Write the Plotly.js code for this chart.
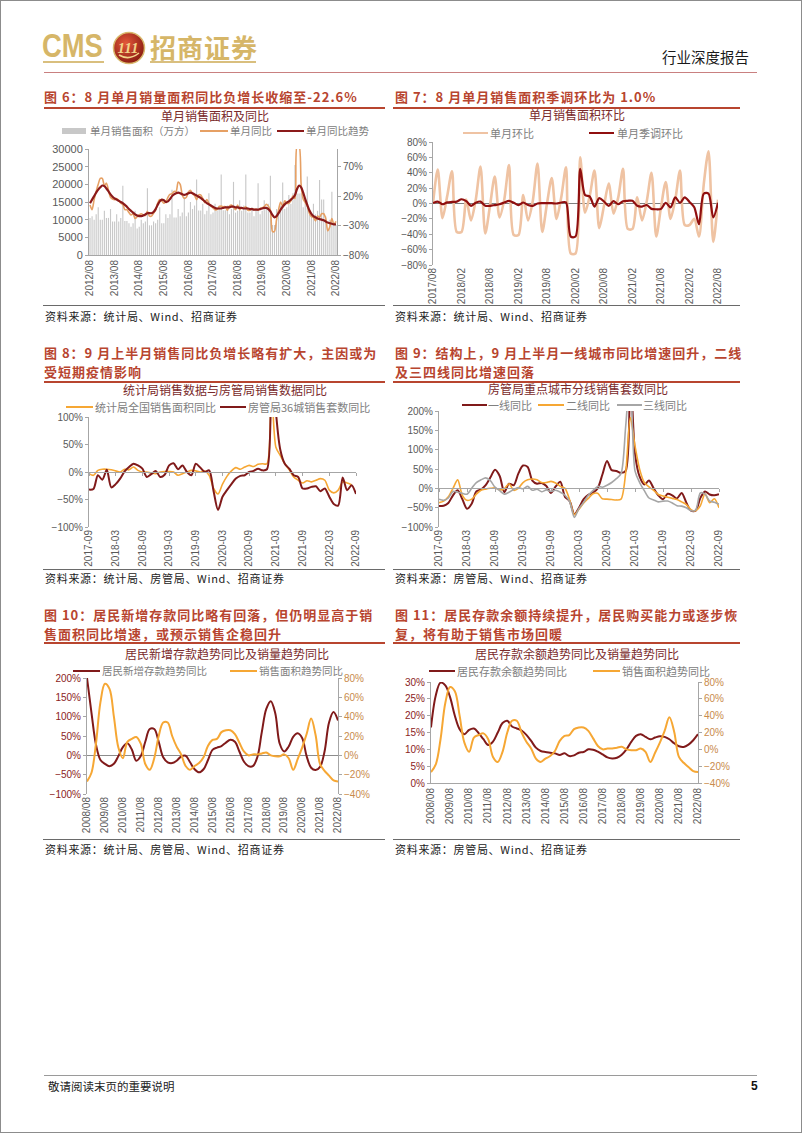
<!DOCTYPE html>
<html><head><meta charset="utf-8">
<script src="https://cdn.plot.ly/plotly-3.0.1.min.js"></script>
<style>
body{margin:0;background:#fff;}
#page{position:relative;width:802px;height:1133px;overflow:hidden;font-family:"Noto Sans CJK SC",sans-serif;background:#fff;}
.frame{position:absolute;left:0;top:0;width:800px;height:1131px;border:1px solid #8c8c8c;}
.t{position:absolute;white-space:nowrap;}
.ftitle{font-size:13px;font-weight:700;color:#b8452f;letter-spacing:1px;line-height:19px;}
.rline{position:absolute;height:1.5px;background:#b8452f;}
.sline{position:absolute;height:1px;background:#6a6a6a;}
.src{font-size:11px;color:#222;letter-spacing:0.7px;line-height:16px;}
.chart{position:absolute;}
.lg{position:absolute;font-size:11px;color:#808080;line-height:12px;white-space:nowrap;}
.ls{position:absolute;}
</style></head>
<body>
<div id="page">
  <div class="frame"></div>
  <!-- header -->
  <div class="t" style="left:42px;top:27px;font-family:'Liberation Sans',Arial,sans-serif;font-weight:700;font-size:33px;color:#d6b668;transform:scaleX(0.83);transform-origin:left top;line-height:38px;">CMS</div>
  <svg style="position:absolute;left:112px;top:31px" width="34" height="34" viewBox="0 0 34 34">
    <defs><radialGradient id="lg1" cx="40%" cy="35%" r="70%"><stop offset="0" stop-color="#e4583a"/><stop offset="1" stop-color="#861910"/></radialGradient></defs>
    <circle cx="17" cy="17" r="15.5" fill="url(#lg1)" stroke="#d9b86c" stroke-width="1.5"/>
    <text x="16" y="22" text-anchor="middle" font-family="Liberation Serif" font-style="italic" font-weight="bold" font-size="15" fill="#f2d48a">111</text>
    <path d="M7 24 Q17 30 27 22" stroke="#f2d48a" stroke-width="1.6" fill="none"/>
  </svg>
  <div class="t" style="left:150px;top:30px;font-size:26px;font-weight:700;color:#d6b668;letter-spacing:1px;line-height:34px;">招商证券</div>
  <div style="position:absolute;left:43px;top:61px;width:61px;height:2px;background:#d9bf7e;"></div>
  <div style="position:absolute;left:150px;top:61px;width:106px;height:2px;background:#d9bf7e;"></div>
  <div class="t" style="left:662px;top:48px;font-size:14.5px;color:#1a1a1a;line-height:18px;">行业深度报告</div>
  <div style="position:absolute;left:44px;top:72px;width:713px;height:1px;background:#c98080;"></div>

  <!-- section titles -->
  <div class="t ftitle" style="left:44px;top:87px;">图 6：8 月单月销量面积同比负增长收缩至-22.6%</div>
  <div class="rline" style="left:44px;top:107px;width:341px;"></div>
  <div class="t ftitle" style="left:395px;top:87px;">图 7：8 月单月销售面积季调环比为 1.0%</div>
  <div class="rline" style="left:393px;top:107px;width:347px;"></div>

  <div class="t ftitle" style="left:44px;top:343px;">图 8：9 月上半月销售同比负增长略有扩大，主因或为<br>受短期疫情影响</div>
  <div class="rline" style="left:44px;top:381px;width:341px;"></div>
  <div class="t ftitle" style="left:395px;top:343px;">图 9：结构上，9 月上半月一线城市同比增速回升，二线<br>及三四线同比增速回落</div>
  <div class="rline" style="left:393px;top:381px;width:347px;"></div>

  <div class="t ftitle" style="left:44px;top:605px;">图 10：居民新增存款同比略有回落，但仍明显高于销<br>售面积同比增速，或预示销售企稳回升</div>
  <div class="rline" style="left:44px;top:642px;width:341px;"></div>
  <div class="t ftitle" style="left:395px;top:605px;">图 11：居民存款余额持续提升，居民购买能力或逐步恢<br>复，将有助于销售市场回暖</div>
  <div class="rline" style="left:393px;top:642px;width:347px;"></div>

  <!-- charts -->
  <div id="c6" class="chart" style="left:40px;top:98px;width:345px;height:207px;"></div>
  <div id="c7" class="chart" style="left:390px;top:98px;width:350px;height:207px;"></div>
  <div id="c8" class="chart" style="left:40px;top:374px;width:345px;height:194px;"></div>
  <div id="c9" class="chart" style="left:390px;top:374px;width:350px;height:194px;"></div>
  <div id="c10" class="chart" style="left:40px;top:635px;width:345px;height:203px;"></div>
  <div id="c11" class="chart" style="left:390px;top:635px;width:350px;height:203px;"></div>

  <!-- sources -->
  <div class="sline" style="left:43px;top:305px;width:342px;"></div>
  <div class="t src" style="left:45px;top:308px;">资料来源：统计局、Wind、招商证券</div>
  <div class="sline" style="left:393px;top:305px;width:347px;"></div>
  <div class="t src" style="left:395px;top:308px;">资料来源：统计局、Wind、招商证券</div>
  <div class="sline" style="left:43px;top:569px;width:342px;"></div>
  <div class="t src" style="left:45px;top:570px;">资料来源：统计局、房管局、Wind、招商证券</div>
  <div class="sline" style="left:393px;top:569px;width:347px;"></div>
  <div class="t src" style="left:395px;top:570px;">资料来源：房管局、Wind、招商证券</div>
  <div class="sline" style="left:43px;top:839px;width:342px;"></div>
  <div class="t src" style="left:45px;top:841px;">资料来源：统计局、房管局、Wind、招商证券</div>
  <div class="sline" style="left:393px;top:839px;width:347px;"></div>
  <div class="t src" style="left:395px;top:841px;">资料来源：房管局、Wind、招商证券</div>

  <!-- footer -->
  <div style="position:absolute;left:44px;top:1075px;width:713px;height:1px;background:#9a9a9a;"></div>
  <div class="t" style="left:48px;top:1078px;font-size:11.5px;color:#222;line-height:16px;">敬请阅读末页的重要说明</div>
  <div class="t" style="left:751px;top:1078px;font-size:12px;font-weight:700;color:#111;font-family:'Liberation Sans',Arial,sans-serif;line-height:16px;">5</div>
</div>
<script>
// ---------------- DATA ----------------
// Fig 6: monthly sales area (10k m2), 2012/08 - 2022/08
const area6 = [
  10500, 11000, 10000, 11500, 13500,
  10000, 10000, 12500, 10500, 10500, 13000, 9500, 9500, 11500, 9500, 10500, 19600,
  9600, 9600, 9000, 8000, 9000, 12500, 7500, 8000, 10000, 9000, 9500, 18900,
  8400, 8400, 9500, 9000, 10000, 13500, 9000, 9000, 11500, 10500, 11500, 18500,
  10600, 10600, 13000, 11000, 12000, 16500, 11000, 12000, 15000, 13000, 14000, 21400,
  12600, 12600, 14500, 11500, 12500, 17500, 11500, 12000, 14500, 12500, 14000, 22800,
  12700, 12700, 14000, 11500, 13000, 20700, 12000, 12500, 15500, 12500, 14000, 22800,
  12000, 12000, 13500, 11000, 13000, 20300, 11500, 12500, 15500, 13000, 14500, 22400,
  8500, 8500, 13000, 11500, 14000, 20500, 13000, 13500, 17000, 14500, 17500, 25500,
  17400, 17400, 17500, 13500, 14500, 22200, 11500, 11500, 14500, 11500, 12500, 21200,
  15700, 15700, 11000, 7000, 10000, 17900, 8500, 8500
];
const yoy6 = [
  5, -3, 14, 28, 40,
  50, 50, 38, 42, 30, 18, 15, 14, 16, 12, 8, 6,
  -3, -3, -8, -12, -10, -18, -15, -12, -10, -12, -13, -6,
  -14, -14, -9, -4, 8, 14, 12, 8, 10, 18, 23, 24,
  28, 28, 44, 40, 22, 16, 18, 27, 30, 24, 21, 14,
  22, 22, 16, 9, 14, 8, 3, 0, -3, -3, 2, 3,
  2, 2, -4, 3, 5, 1, -3, 5, -3, 0, 0, 2,
  -4, -4, -1, -3, -2, -4, -1, 0, 2, 6, 3, -4,
  -40, -40, -20, -3, 10, 2, 12, 8, 8, 12, 20, 16,
  105, 105, 40, 15, 9, 3, -9, -15, -16, -22, -14, -16,
  -10, -10, -18, -39, -32, -18, -28, -23
];
const trend6 = [
  8, 14, 20, 26, 31,
  35, 38, 37, 33, 28, 23, 19, 16, 14, 12, 10, 8,
  5, 2, -2, -5, -8, -11, -13, -14, -14, -13, -11, -9,
  -9, -9, -7, -2, 5, 11, 14, 13, 10, 11, 15, 20,
  23, 25, 26, 25, 23, 22, 23, 25, 26, 25, 23, 21,
  19, 17, 14, 11, 8, 6, 4, 2, 0, -1, -1, -1,
  0, 1, 1, 1, 2, 2, 1, 1, 0, 0, -1, -1,
  -1, -2, -2, -3, -3, -3, -2, -1, 0, 0, -2, -6,
  -12, -16, -14, -9, -3, 2, 6, 9, 11, 14, 17, 22,
  32, 38, 35, 26, 15, 5, -4, -10, -14, -16, -18, -19,
  -20, -21, -23, -25, -26, -27, -28, -28
];

// Fig 7: MoM, 2017/08 - 2022/08
const mom7 = [0,44,-19,10,42,-37,-37,5,-22,5, 48,-39,-3,35,-18,5,50,-41,-41,11,
  -22,3,52,-37,0,33,-20,8,47,-65, -65,60,-12,10,43,-32,-3,26,-13,8,
  45,-33,-33,8,-22,3,40,-43,-5,28, -20,5,43,-28,-28,-20,-43,25,68,-50, 5];
const sa7 = [0.5,2.5,-1,1.5,2, 2.5,5.5,3,-3,1, 2.5,-3,-3,-2,-1, 1.3,3.5,1,-2,1.3,
  -2,-3,0,0.5,0.5, 0.5,0,1.3,1.5,-43, -43,45,11,9,-4, 7,2.6,-3,3,-1,
  3,3.5,3.5,-3,-4, -2,-7,-7.5,-7,1, -5,8,1,8,2, -5,-27,12.7,13,-18, 1];

// Fig 8: YoY, 2017-09 - 2022-09
const nbs8 = [-3,-6,3,5,5,4,2,0,5,4, 9,3,0,0,-2,-3,0,1,1,0,
  -6,-3,0,3,2,0,2,-6,-30,-40, -22,-8,2,8,5,9,12,10,14,15,
  15,150,45,30,15,4,-9,-15,-20,-16, -18,-15,-12,-15,-33,-38,-33,-18,-20,-23];
const city36 = [-32,-31,-6,-14,4,-28,-22,-12,1,9, 15,12,6,-9,-4,2,-9,-5,12,16,
  5,12,0,-6,15,8,0,3,-35,-69, -45,-33,-22,-12,-7,-6,0,2,6,3,
  5,250,110,40,15,6,-6,-9,-30,-30, -27,-26,-35,-30,-45,-58,-61,-10,-33,-24, -40];

// Fig 9: tier YoY, 2017-09 - 2022-09
const tier1 = [-46,-45,-38,-18,-5, -28,-53,-40,-8,-3, 8,28,48,32,-10, 12,8,38,59,55,
  20,12,14,6,-12, 5,17,-22,-33,-67, -50,-28,-17,-11,0, 35,71,47,45,40,
  45,300,90,30,10, 20,0,-18,-28,-14, -18,-26,-12,-37,-58, -58,-25,-8,-16,-18, -15];
const tier2 = [-37,-33,-22,0,22, -18,-31,-28,-15,-5, -2,0,1,-4,-1, 12,-5,0,15,22,
  24,22,15,15,18, 14,5,0,-30,-68, -54,-38,-26,-14,-13, -27,-28,-29,-30,-28,
  40,183,110,49,15, 4,-5,-16,-20,-23, -26,-29,-35,-42,-55, -58,-45,-14,-37,-27, -50];
const tier3 = [-28,-31,-25,-8,-10, -13,-15,0,15,22, 27,20,3,-6,-15, -10,-3,2,-1,5,
  -5,-2,-9,-4,-8, -5,-10,-18,-35,-75, -52,-36,-18,-6,5, 3,8,15,25,38,
  160,300,45,15,-6, -25,-30,-35,-33,-33, -38,-45,-46,-50,-58, -56,-12,-15,-33,-36, -41];

// Fig 10/11: quarterly, 2008/08 - 2022/08
const salesTrend = [-27,-18,12,55,74,69,40,8,-3,14, 17,19,12,-9,-15,-3,20,34,34,20,
  9,1,-11,-15,-11,-8,-2,10,16,17, 24,26,26,22,13,4,0,1,1,2,
  3,0,-1,-1,1,-3,-15,-4,8,22, 38,21,-9,-16,-21,-26,-27];
const newDeposit = [200,110,28,-12,-22,-28,-22,-2,21,31, 15,-14,-2,35,68,68,35,-5,-18,-20,
  -14,-3,-1,-18,-36,-44,-36,-12,14,20, 24,33,40,35,10,-16,-28,-28,-5,60,
  120,140,109,30,10,23,48,57,45,-2, -32,-38,-30,10,85,112,90];
const depositBal = [16.5,26,29.8,29,25.5,20,16,14.5,15.8,16.2, 14.8,13,11.3,12.3,15,17.8,18.5,16.8,16.2,15.6,
  14.3,12.5,10.5,9.5,9.2,9,8.8,8.3,8.8,8, 8.2,9,9.2,10,9.9,9.3,8.5,7.6,7.3,7.5,
  8.4,10,12.2,14,14.5,13.7,13,13.5,13.9,13.7, 13,11.8,10.9,10.7,11.4,12.7,14.5];

// ---------------- CATEGORIES ----------------
function seqLabels(y, m, n, step, sep) {
  const out = [];
  for (let i = 0; i < n; i++) {
    const k = (m - 1) + i * step;
    out.push((y + Math.floor(k / 12)) + sep + String(k % 12 + 1).padStart(2, '0'));
  }
  return out;
}
const cats6 = seqLabels(2012, 8, area6.length, 1, '/');
const ticks6 = cats6.filter((_, i) => i % 12 === 0);
const cats7 = seqLabels(2017, 8, mom7.length, 1, '/');
const ticks7 = cats7.filter((_, i) => i % 6 === 0);
const cats8 = seqLabels(2017, 9, city36.length, 1, '-');
const ticks8 = cats8.filter((_, i) => i % 6 === 0);
const catsQ = seqLabels(2008, 8, salesTrend.length, 3, '/');
const ticksQ = catsQ.filter((_, i) => i % 4 === 0);

// ---------------- STYLE ----------------
const CJK = '"Noto Sans CJK SC", "Noto Sans", sans-serif';
const NUM = '"Liberation Sans", Arial, sans-serif';
const AX = '#a6a6a6';
const TK = '#595959';
const MAROON = '#801a1a';
const ORANGE = '#f6a734';
const CFG = {staticPlot: true, displayModeBar: false};

function ax(extra) {
  return Object.assign({
    showgrid: false, zeroline: false, showline: true, linecolor: AX, linewidth: 1,
    ticks: 'outside', ticklen: 3, tickcolor: AX, fixedrange: true,
    tickfont: {family: NUM, size: 10, color: TK}
  }, extra);
}
function ttl(text, x, y) {
  return {text: text, font: {family: CJK, size: 12, color: '#7a2a2a'},
    xref: 'container', yref: 'container', x: x, y: y, xanchor: 'center', yanchor: 'middle'};
}
function base(w, h, m, title) {
  return {width: w, height: h, margin: m, showlegend: false, title: title,
    paper_bgcolor: 'rgba(0,0,0,0)', plot_bgcolor: 'rgba(0,0,0,0)'};
}
function line(x, y, color, width, extra) {
  return Object.assign({type: 'scatter', mode: 'lines', x: x, y: y,
    line: {color: color, width: width, shape: 'spline', smoothing: 0.8}, hoverinfo: 'skip'}, extra || {});
}
function addLegend(cy, items) {
  const page = document.getElementById('page');
  items.forEach(function (it) {
    const s = document.createElement('div');
    s.className = 'ls';
    s.style.cssText = 'left:' + it.sx + 'px;top:' + (cy - it.h / 2) + 'px;width:' + it.sw + 'px;height:' + it.h + 'px;background:' + it.c + ';';
    page.appendChild(s);
    const t = document.createElement('div');
    t.className = 'lg';
    t.style.left = it.tx + 'px';
    t.style.top = (cy - 6) + 'px';
    if (it.fs) t.style.fontSize = it.fs + 'px';
    t.textContent = it.name;
    page.appendChild(t);
  });
}

// ---------------- FIG 6 ----------------
Plotly.newPlot('c6', [
  {type: 'bar', x: cats6, y: area6, marker: {color: '#c8c8c8'}, name: '单月销售面积（万方）', hoverinfo: 'skip'},
  line(cats6, yoy6, '#e6a064', 1.6, {yaxis: 'y2', name: '单月同比'}),
  line(cats6, trend6, '#8b1a1a', 2.2, {yaxis: 'y2', name: '单月同比趋势'})
], Object.assign(base(345, 207, {l: 49, r: 48, t: 51, b: 50}, ttl('单月销售面积及同比', (215 - 40) / 345, 1 - 19 / 207)), {
  bargap: 0.45,
  xaxis: ax({type: 'category', range: [-0.5, cats6.length - 0.5], tickvals: ticks6, tickangle: -90, ticks: ''}),
  yaxis: ax({range: [0, 30000], dtick: 5000, tickformat: 'd', tickfont: {family: NUM, size: 11, color: TK}}),
  yaxis2: ax({overlaying: 'y', side: 'right', range: [-80, 100], tick0: -80, dtick: 50, ticksuffix: '%'})
}), CFG);
addLegend(131, [
  {name: '单月销售面积（万方）', sx: 62, sw: 24, h: 6, c: '#c8c8c8', tx: 90, fs: 10.5},
  {name: '单月同比', sx: 200, sw: 28, h: 2, c: '#e6a064', tx: 230, fs: 10.5},
  {name: '单月同比趋势', sx: 277, sw: 27, h: 2.5, c: '#8b1a1a', tx: 306, fs: 10.5}
]);

// ---------------- FIG 7 ----------------
Plotly.newPlot('c7', [
  line(cats7, mom7, '#efc3a3', 2.6, {name: '单月环比'}),
  line(cats7, sa7, '#900f0f', 2.2, {name: '单月季调环比'})
], Object.assign(base(350, 207, {l: 43, r: 22, t: 44, b: 40}, ttl('单月销售面积环比', (577 - 390) / 350, 1 - 18 / 207)), {
  xaxis: ax({type: 'category', range: [0, cats7.length - 1], tickvals: ticks7, tickangle: -90, ticks: '', showline: false}),
  yaxis: ax({range: [-80, 80], dtick: 20, ticksuffix: '%', zeroline: true, zerolinecolor: '#7f7f7f', zerolinewidth: 1})
}), CFG);
addLegend(133, [
  {name: '单月环比', sx: 463, sw: 25, h: 2.5, c: '#efc3a3', tx: 490},
  {name: '单月季调环比', sx: 589, sw: 25, h: 2.5, c: '#900f0f', tx: 617}
]);

// ---------------- FIG 8 ----------------
Plotly.newPlot('c8', [
  line(cats8.slice(0, nbs8.length), nbs8, ORANGE, 1.6, {name: '统计局全国销售面积同比'}),
  line(cats8, city36, MAROON, 2, {name: '房管局36城销售套数同比'}),
  {type: 'scatter', mode: 'lines', x: cats8, y: cats8.map(function () { return null; }), xaxis: 'x2', showlegend: false, hoverinfo: 'skip'}
], Object.assign(base(345, 194, {l: 49, r: 29, t: 43, b: 41}, ttl('统计局销售数据与房管局销售数据同比', (225 - 40) / 345, 1 - 17 / 194)), {
  xaxis: ax({type: 'category', range: [0, cats8.length - 1], tickvals: ticks8, tickangle: -90, ticks: '', showline: false}),
  xaxis2: ax({type: 'category', overlaying: 'x', anchor: 'free', position: 0.5, range: [0, cats8.length - 1], tickvals: ticks8, showticklabels: false}),
  yaxis: ax({range: [-100, 100], dtick: 50, ticksuffix: '%'})
}), CFG);
addLegend(407, [
  {name: '统计局全国销售面积同比', sx: 66, sw: 27, h: 2, c: ORANGE, tx: 95},
  {name: '房管局36城销售套数同比', sx: 220, sw: 26, h: 2.5, c: MAROON, tx: 248}
]);

// ---------------- FIG 9 ----------------
Plotly.newPlot('c9', [
  line(cats8, tier1, MAROON, 2, {name: '一线同比'}),
  line(cats8, tier2, ORANGE, 1.6, {name: '二线同比'}),
  line(cats8, tier3, '#a6a6a6', 1.6, {name: '三线同比'}),
  {type: 'scatter', mode: 'lines', x: cats8, y: cats8.map(function () { return null; }), xaxis: 'x2', showlegend: false, hoverinfo: 'skip'}
], Object.assign(base(350, 194, {l: 49, r: 21, t: 37, b: 41}, ttl('房管局重点城市分线销售套数同比', (578 - 390) / 350, 1 - 16 / 194)), {
  xaxis: ax({type: 'category', range: [0, cats8.length - 1], tickvals: ticks8, tickangle: -90, ticks: '', showline: false}),
  xaxis2: ax({type: 'category', overlaying: 'x', anchor: 'free', position: 1 / 3, range: [0, cats8.length - 1], tickvals: ticks8, showticklabels: false}),
  yaxis: ax({range: [-100, 200], dtick: 50, ticksuffix: '%'})
}), CFG);
addLegend(405, [
  {name: '一线同比', sx: 462, sw: 25, h: 2.5, c: MAROON, tx: 488},
  {name: '二线同比', sx: 538, sw: 26, h: 2.5, c: ORANGE, tx: 566},
  {name: '三线同比', sx: 617, sw: 25, h: 2.5, c: '#a6a6a6', tx: 643}
]);

// ---------------- FIG 10 ----------------
const LEFTC = '#8b2323', RIGHTC = '#c98b4b';
Plotly.newPlot('c10', [
  line(catsQ, newDeposit, MAROON, 2, {name: '居民新增存款趋势同比', line: {color: MAROON, width: 2, shape: 'spline', smoothing: 1}}),
  line(catsQ, salesTrend, ORANGE, 2, {yaxis: 'y2', name: '销售面积趋势同比', line: {color: ORANGE, width: 2, shape: 'spline', smoothing: 1}})
], Object.assign(base(345, 203, {l: 47, r: 47, t: 43, b: 44}, ttl('居民新增存款趋势同比及销量趋势同比', (227 - 40) / 345, 1 - 20 / 203)), {
  xaxis: ax({type: 'category', range: [0, catsQ.length - 1], tickvals: ticksQ, tickangle: -90, ticks: '', showline: false}),
  yaxis: ax({range: [-100, 200], dtick: 50, ticksuffix: '%', zeroline: true, zerolinecolor: '#8c8c8c', zerolinewidth: 1, tickfont: {family: NUM, size: 10, color: LEFTC}}),
  yaxis2: ax({overlaying: 'y', side: 'right', range: [-40, 80], dtick: 20, ticksuffix: '%', tickfont: {family: NUM, size: 10, color: RIGHTC}})
}), CFG);
addLegend(671, [
  {name: '居民新增存款趋势同比', sx: 73, sw: 27, h: 2.5, c: MAROON, tx: 102, fs: 10.5},
  {name: '销售面积趋势同比', sx: 230, sw: 27, h: 2.5, c: ORANGE, tx: 259, fs: 10.5}
]);

// ---------------- FIG 11 ----------------
Plotly.newPlot('c11', [
  line(catsQ, depositBal, MAROON, 2, {name: '居民存款余额趋势同比', line: {color: MAROON, width: 2, shape: 'spline', smoothing: 1}}),
  line(catsQ, salesTrend, ORANGE, 2, {yaxis: 'y2', name: '销售面积趋势同比', line: {color: ORANGE, width: 2, shape: 'spline', smoothing: 1}})
], Object.assign(base(350, 203, {l: 41, r: 42, t: 47, b: 55}, ttl('居民存款余额趋势同比及销量趋势同比', (577 - 390) / 350, 1 - 20 / 203)), {
  xaxis: ax({type: 'category', range: [0, catsQ.length - 1], tickvals: ticksQ, tickangle: -90, ticks: ''}),
  yaxis: ax({range: [0, 30], dtick: 5, ticksuffix: '%', tickfont: {family: NUM, size: 10, color: LEFTC}}),
  yaxis2: ax({overlaying: 'y', side: 'right', range: [-40, 80], dtick: 20, ticksuffix: '%', tickfont: {family: NUM, size: 10, color: RIGHTC}})
}), CFG);
addLegend(671, [
  {name: '居民存款余额趋势同比', sx: 429, sw: 26, h: 2.5, c: MAROON, tx: 457},
  {name: '销售面积趋势同比', sx: 593, sw: 27, h: 2.5, c: ORANGE, tx: 622}
]);
</script>
</body></html>
